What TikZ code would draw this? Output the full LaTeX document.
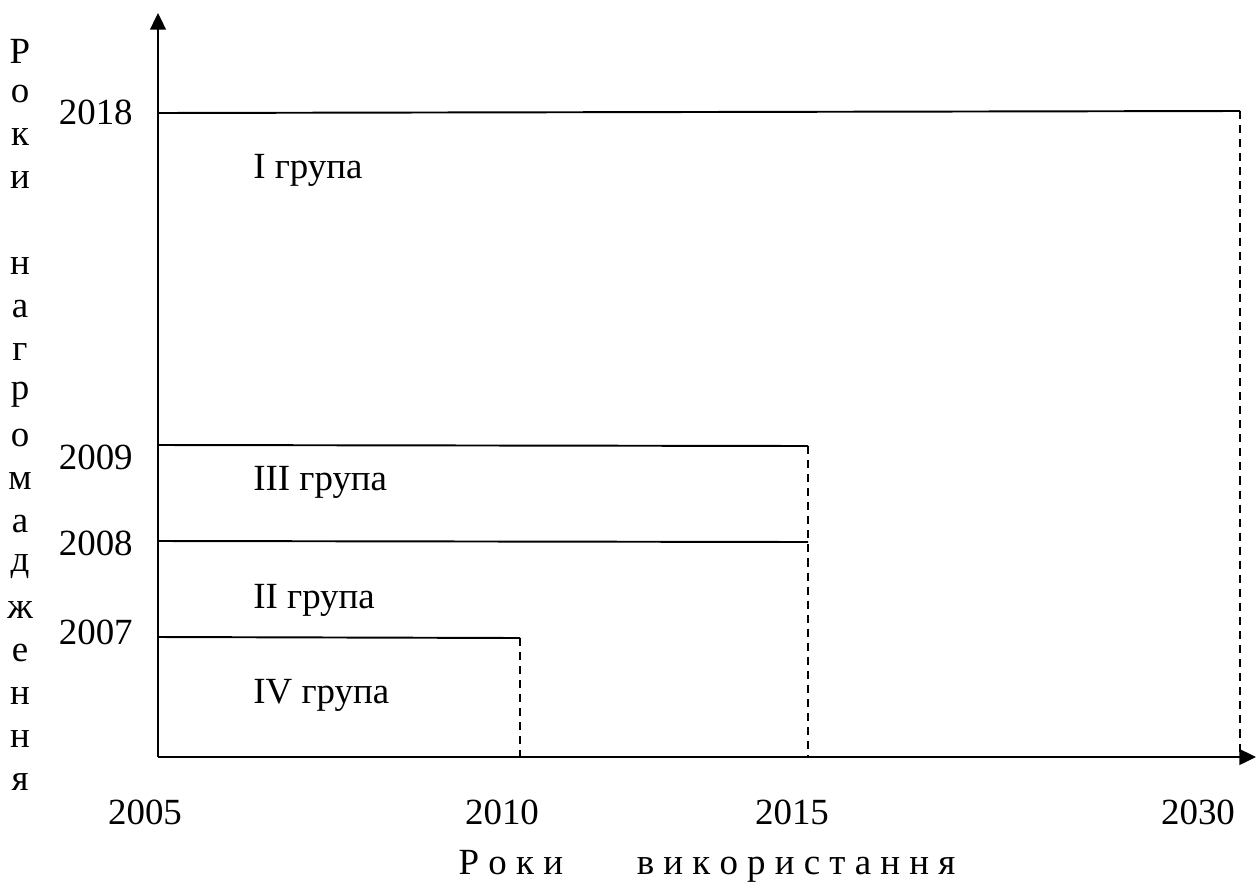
\documentclass[tikz,border=0pt]{standalone}
\usepackage{fontspec}
\setmainfont{Liberation Serif}
\usepackage{tikz}
\usetikzlibrary{arrows.meta}
\tikzstyle{axis}=[line width=1.1pt, -{Triangle[length=9.5pt, width=9pt]}]
\tikzstyle{lvl}=[line width=1.1pt]
\tikzstyle{drop}=[line width=1.4pt, dash pattern=on 4.6pt off 3.4pt]
\tikzstyle{txt}=[inner sep=0pt, font=\fontsize{21}{25}\selectfont]
\tikzstyle{yr}=[txt, anchor=east]
\tikzstyle{grp}=[txt, anchor=west]

\begin{document}
\begin{tikzpicture}[x=0.02cm, y=-0.02cm]
	\useasboundingbox (0,0) rectangle (1256,889);
	% axes
	\coordinate (o) at (158,757);
	\coordinate (ytip) at (158,13);
	\coordinate (xtip) at (1256,757);
	\draw[axis] (o) -- (ytip);
	\draw[axis] (o) -- (xtip);
	% levels
	\coordinate (a18) at (158,113);
	\coordinate (b18) at (1240,111);
	\coordinate (c30) at (1240,757);
	\coordinate (a09) at (158,445);
	\coordinate (b09) at (808,446);
	\coordinate (a08) at (158,541);
	\coordinate (b08) at (808,542);
	\coordinate (c15) at (808,757);
	\coordinate (a07) at (158,637);
	\coordinate (b07) at (520,638);
	\coordinate (c10) at (520,757);
	\draw[lvl] (a18) -- (b18);
	\draw[drop] (b18) -- (c30);
	\draw[lvl] (a09) -- (b09);
	\draw[drop] (b09) -- (c15);
	\draw[lvl] (a08) -- (b08);
	\draw[lvl] (a07) -- (b07);
	\draw[drop] (b07) -- (c10);
	% year labels
	\node[yr] (t18) at (133,112) {2018};
	\node[yr] (t09) at (133,457) {2009};
	\node[yr] (t08) at (133,543) {2008};
	\node[yr] (t07) at (133,632) {2007};
	\node[txt] (t05) at (145,812) {2005};
	\node[txt] (t10) at (502,812) {2010};
	\node[txt] (t15) at (792,812) {2015};
	\node[txt] (t30) at (1198,812) {2030};
	% groups
	\node[grp] (g1) at (253,170) {I група};
	\node[grp] (g3) at (253,482) {III група};
	\node[grp] (g2) at (253,600) {II група};
	\node[grp] (g4) at (253,695) {IV група};
	% axis titles
	\node[txt] (xt) at (707,866) {Р\ о\ к\ и\qquad в\ и\ к\ о\ р\ и\ с\ т\ а\ н\ н\ я};
	\foreach \ch [count=\i] in {Р,о,к,и,{},н,а,г,р,о,м,а,д,ж,е,н,н,я}
		\node[txt] (v\i) at (20,{51+43*(\i-1)}) {\ch};
\end{tikzpicture}
\end{document}
